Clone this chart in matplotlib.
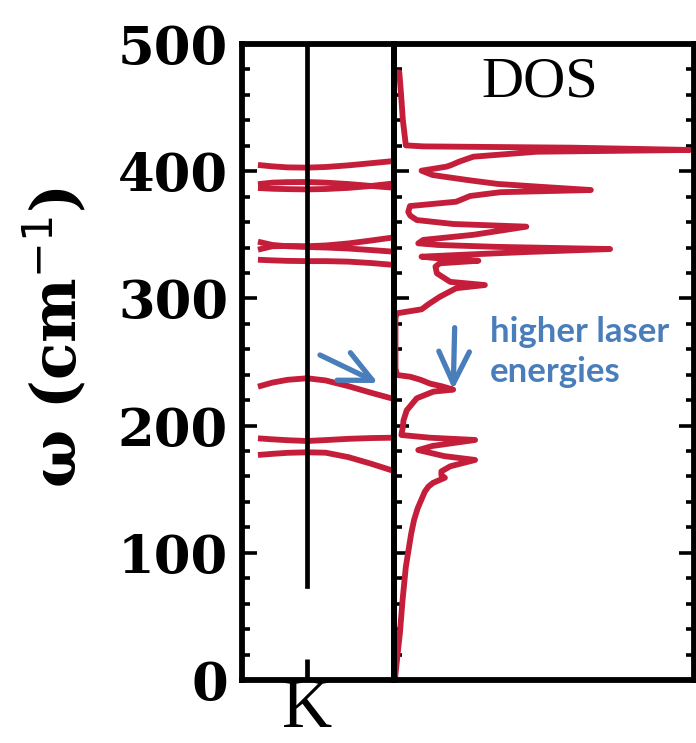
import numpy as np
import matplotlib
matplotlib.use('Agg')
from matplotlib import pyplot as plt
from matplotlib.ticker import MultipleLocator

# phonon branches near K (k in panel units, omega in cm^-1)
k_path = [0.105, 0.2, 0.3, 0.428, 0.55, 0.7, 0.85, 1.0]
k_point = 0.428
bands = [
    [404.9, 403.8, 403.0, 402.8, 403.3, 404.6, 406.3, 408.0],
    [389.8, 391.0, 391.4, 391.5, 391.0, 389.9, 388.4, 387.0],
    [386.8, 386.2, 385.9, 385.7, 386.0, 386.9, 388.4, 390.4],
    [338.3, 341.0, 341.2, 341.0, 341.6, 343.2, 345.5, 348.0],
    [344.6, 342.0, 341.0, 340.4, 340.0, 339.2, 338.0, 336.7],
    [330.4, 329.9, 329.5, 329.3, 329.3, 328.9, 327.8, 326.3],
    [230.6, 233.8, 236.0, 237.2, 235.5, 231.0, 225.8, 220.9],
    [190.0, 189.2, 188.5, 187.9, 188.6, 189.6, 190.2, 190.5],
    [176.9, 177.8, 178.6, 179.0, 178.7, 175.2, 170.0, 164.3],
]

# phonon density of states (arb. units)
dos_omega = [0, 20, 37, 63, 89, 115, 126, 135, 141.5, 148, 152, 155, 157, 159,
             161, 164, 168, 173, 176, 180.8, 184, 188.7, 190.5, 192.6, 199,
             204, 212, 221.5, 226.7, 228.3, 231, 233, 236, 238.4, 239.8, 245,
             285, 288.3, 291.4, 296, 301.3, 308, 310.5, 313, 319.7, 325, 327.6,
             329.6, 331.5, 332.8, 334.5, 336.5, 338.8, 340.5, 342, 343.3, 346,
             350, 356.4, 358.5, 361.6, 365, 368, 372.6, 376, 380.5, 383.5,
             385.2, 387.8, 390, 393, 397, 400.4, 403.6, 405, 407.5, 411.4,
             415.3, 416.7, 418.5, 419.5, 420.3, 440, 460, 477.5, 478]
dos = [0.003, 0.012, 0.02, 0.029, 0.04, 0.058, 0.068, 0.08, 0.092, 0.104,
       0.116, 0.132, 0.152, 0.172, 0.16, 0.16, 0.19, 0.274, 0.17, 0.082,
       0.13, 0.274, 0.12, 0.025, 0.03, 0.032, 0.043, 0.077, 0.133, 0.2,
       0.16, 0.122, 0.09, 0.055, 0.01, 0.005, 0.005, 0.01, 0.093, 0.12,
       0.155, 0.21, 0.307, 0.19, 0.145, 0.14, 0.155, 0.285, 0.15, 0.093,
       0.25, 0.45, 0.73, 0.35, 0.15, 0.082, 0.099, 0.268, 0.447, 0.2, 0.077,
       0.055, 0.048, 0.054, 0.21, 0.257, 0.36, 0.665, 0.49, 0.35, 0.25,
       0.13, 0.093, 0.178, 0.195, 0.22, 0.268, 0.482, 1.0, 0.6, 0.1, 0.04,
       0.03, 0.024, 0.018, 0.0]

red = '#c41e3a'
blue = '#4a7ebb'
spine_w = 4.2
line_w = 4.2

fig = plt.figure(figsize=(6.96, 7.43), dpi=100)
ax1 = fig.add_axes([242/696, 63/743, 152/696, 636/743])
ax2 = fig.add_axes([394/696, 63/743, 300/696, 636/743])

for ax in (ax1, ax2):
    ax.set_ylim(0, 500)
    for sp in ax.spines.values():
        sp.set_linewidth(spine_w)
    ax.yaxis.set_major_locator(MultipleLocator(100))
    ax.yaxis.set_minor_locator(MultipleLocator(20))
    ax.tick_params(axis='y', which='major', direction='in', length=11, width=2.6)
    ax.tick_params(axis='y', which='minor', direction='in', length=6, width=2.6)

# dispersion panel
ax1.set_xlim(0, 1)
for b in bands:
    ax1.plot(k_path, b, color=red, lw=line_w, solid_capstyle='butt')
ax1.plot([k_point, k_point], [74, 500], color='black', lw=3.4)
ax1.set_xticks([k_point])
ax1.set_xticklabels(['K'], fontfamily='Liberation Serif', fontsize=50)
ax1.tick_params(axis='x', direction='in', length=15, width=3.4, pad=-1)
ax1.tick_params(axis='y', which='both', left=True, right=False,
                labelsize=38, pad=10)
for lbl in ax1.get_yticklabels():
    lbl.set_fontfamily('DejaVu Serif')
    lbl.set_fontweight('bold')

ax1.set_zorder(2)
ax1.patch.set_alpha(0)

# DOS panel
ax2.set_xlim(0, 300/296)
ax2.plot(dos, dos_omega, color=red, lw=line_w, solid_joinstyle='round')
ax2.set_xticks([])
ax2.tick_params(axis='y', which='both', left=True, right=True, labelleft=False)
ax2.text(0.487, 0.94, 'DOS', transform=ax2.transAxes, ha='center', va='center',
         fontfamily='Liberation Serif', fontsize=42)

fig.text(55/696, 1 - 338/743, 'ω (cm$^{-1}$)', rotation=90, ha='center',
         va='center', fontfamily='DejaVu Serif', fontweight='bold', fontsize=44)

# annotation
peak = int(np.argmax([d if 220 < w < 235 else 0 for d, w in zip(dos, dos_omega)]))
arrow = dict(arrowstyle='->, head_length=1.15, head_width=0.55', color=blue,
             lw=3.8, mutation_scale=20, shrinkA=0, shrinkB=0)
ax2.annotate('', xy=(dos[peak], dos_omega[peak]), xytext=(0.205, 277),
             arrowprops=arrow, annotation_clip=False)
ax1.annotate('', xy=(0.895, 233.5), xytext=(0.513, 255.5),
             arrowprops=arrow, annotation_clip=False)
ax2.text(0.325, 258, 'higher laser\nenergies', color=blue, fontfamily='Lato',
         fontweight='bold', fontsize=25, ha='left', va='center',
         linespacing=1.3)

fig.savefig('out.png', dpi=100)
